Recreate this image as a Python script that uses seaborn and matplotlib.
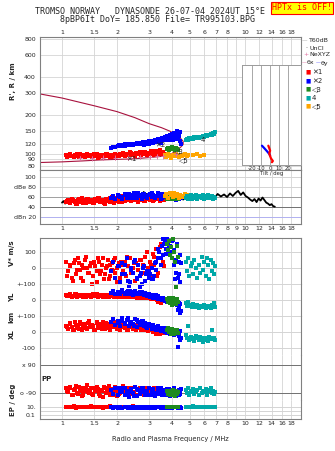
import matplotlib
matplotlib.use("Agg")
import matplotlib.pyplot as plt
from matplotlib.ticker import NullLocator
import seaborn as sns

# ---- values ----
red_f = [1.05, 1.08, 1.1, 1.13, 1.16, 1.19, 1.22, 1.25, 1.28, 1.31, 1.34, 1.37, 1.4, 1.44, 1.48, 1.52, 1.56, 1.6, 1.64, 1.68,
         1.72, 1.76, 1.8, 1.84, 1.88, 1.92, 1.96, 2.0, 2.04, 2.08, 2.12, 2.16, 2.2, 2.25, 2.3, 2.35, 2.4, 2.45, 2.5, 2.55,
         2.6, 2.66, 2.72, 2.78, 2.84, 2.9, 2.96, 3.02, 3.08, 3.14, 3.2, 3.27, 3.34, 3.42, 3.5, 3.6]
red_h = [97, 95, 99, 96, 94, 98, 96, 100, 95, 97, 94, 99, 96, 98, 95, 97, 100, 94, 96, 98,
         95, 99, 97, 94, 98, 96, 100, 97, 95, 99, 98, 101, 96, 99, 97, 102, 98, 100, 96, 101,
         99, 103, 97, 100, 102, 98, 101, 99, 104, 100, 98, 102, 105, 100, 103, 99]
red_db = [50, 54, 48, 56, 52, 47, 55, 51, 58, 49, 53, 57, 50, 54, 48, 56, 52, 59, 50, 55,
          47, 53, 57, 51, 60, 49, 54, 58, 52, 56, 50, 61, 53, 57, 55, 59, 52, 60, 54, 57,
          51, 58, 55, 62, 53, 57, 60, 54, 58, 52, 61, 56, 59, 53, 57, 55]
red_v = [40, -20, 10, -60, 30, -40, 60, -10, 20, -80, 50, 0, -30, 30, -50, 10, -90, 40, -20, 60,
         -40, 10, -70, 20, -10, 50, -30, 0, 30, -60, 20, -20, 40, -50, 10, 60, -30, 0, -80, 30,
         -10, 50, -40, 20, 70, -20, 0, 40, -60, 90, 20, 120, -30, 60, 150, 10]
red_yl = [30, 25, 35, 20, 28, 38, 22, 30, 26, 18, 33, 24, 29, 20, 35, 27, 22, 31, 25, 19,
          28, 34, 21, 26, 30, 17, 24, 32, 20, 27, 23, 18, 29, 25, 21, 16, 26, 22, 30, 19,
          24, 14, 20, 27, 15, 22, 10, 18, 12, 20, 8, 15, -10, 12, -20, 8]
red_xl = [40, 20, 55, 30, 10, 45, 25, 60, 15, 35, 50, 20, 70, 30, 40, 10, 55, 25, 45, 65,
          20, 35, 50, 15, 40, 30, 60, 20, 45, 10, 35, 55, 25, 40, 15, 50, 30, 20, 45, 10,
          35, 25, 40, 15, 30, 20, 5, 25, 10, 0, 15, -10, 5, -15, 10, -5]
red_pp = [-60, -85, -50, -100, -70, -45, -95, -65, -110, -55, -80, -40, -90, -60, -105, -75, -50, -95, -70, -115,
          -55, -85, -45, -100, -65, -80, -50, -110, -70, -90, -60, -45, -100, -75, -55, -95, -65, -85, -50, -105,
          -70, -60, -90, -80, -55, -100, -65, -85, -75, -95, -60, -80, -70, -90, -65, -85]
red_ep = [10, 8, 12, 9, 14, 7, 11, 10, 13, 8, 9, 12, 10, 15, 8, 11, 9, 13, 10, 7,
          12, 9, 11, 14, 8, 10, 12, 9, 11, 8, 13, 10, 9, 12, 7, 11, 10, 14, 9, 12,
          8, 10, 11, 13, 9, 10, 12, 8, 11, 9, 10, 13, 8, 11, 10, 12]

# second batch of mode-1 echoes
red2_f = [1.07, 1.11, 1.15, 1.18, 1.21, 1.24, 1.27, 1.3, 1.35, 1.39, 1.42, 1.46, 1.5, 1.55, 1.58, 1.62, 1.66, 1.7, 1.75, 1.79,
          1.83, 1.87, 1.91, 1.95, 2.0, 2.06, 2.1, 2.18, 2.28, 2.38, 2.48, 2.58, 2.7, 2.8, 2.93, 3.05, 3.18, 3.3, 3.45, 3.55]
red2_h = [94, 98, 95, 97, 99, 94, 97, 96, 98, 95, 97, 94, 99, 96, 93, 98, 95, 97, 99, 96,
          98, 94, 97, 99, 96, 98, 100, 97, 99, 101, 97, 100, 98, 103, 99, 101, 104, 100, 106, 102]
red2_db = [53, 49, 55, 51, 47, 56, 50, 54, 48, 57, 52, 55, 49, 53, 58, 51, 54, 49, 56, 52,
           58, 50, 55, 53, 57, 51, 59, 54, 56, 52, 60, 55, 58, 53, 61, 57, 55, 59, 56, 58]
red2_v = [-50, 20, -80, 50, -10, 30, -60, 0, 70, -30, 10, -100, 40, -20, 60, -40, 20, -70, 0, 50,
          -50, 30, -20, 60, -90, 10, 40, -40, 70, -10, 30, -70, 50, -30, 100, 10, 70, -50, 130, 40]
red2_yl = [22, 32, 27, 36, 19, 30, 25, 34, 21, 28, 31, 23, 26, 35, 20, 29, 24, 33, 18, 27,
           25, 30, 22, 28, 19, 26, 23, 31, 17, 25, 20, 15, 24, 12, 18, 6, 14, 0, 10, -5]
red2_xl = [30, 50, 15, 65, 35, 20, 50, 40, 25, 55, 35, 45, 15, 60, 30, 50, 20, 40, 55, 25,
           45, 30, 65, 40, 20, 50, 30, 45, 15, 35, 25, 40, 10, 30, 15, 20, 0, 10, -10, 5]
red2_pp = [-75, -55, -100, -65, -90, -50, -80, -105, -60, -85, -70, -95, -55, -80, -65, -110, -75, -50, -90, -60,
           -85, -70, -100, -55, -80, -95, -65, -75, -105, -60, -90, -70, -80, -100, -65, -85, -75, -95, -70, -80]
red2_ep = [9, 11, 8, 12, 10, 9, 13, 8, 11, 10, 12, 9, 8, 11, 13, 10, 9, 12, 8, 10,
           11, 9, 12, 10, 8, 11, 9, 13, 10, 8, 12, 9, 11, 10, 12, 9, 11, 8, 10, 12]

blue_f = [1.85, 1.9, 1.96, 2.02, 2.08, 2.14, 2.2, 2.26, 2.32, 2.38, 2.44, 2.5, 2.56, 2.62, 2.68, 2.74, 2.8, 2.86, 2.92, 2.98,
          3.04, 3.1, 3.16, 3.22, 3.28, 3.34, 3.4, 3.46, 3.52, 3.58, 3.64, 3.7, 3.76, 3.82, 3.88, 3.94, 4.0, 4.06, 4.12, 4.18,
          4.24, 4.3, 4.36, 4.42]
blue_h = [111, 113, 112, 115, 114, 117, 115, 118, 116, 119, 117, 120, 118, 121, 119, 122, 117, 121, 124, 119,
          123, 126, 121, 128, 124, 130, 126, 122, 132, 127, 134, 129, 137, 131, 140, 134, 143, 128, 146, 136,
          150, 131, 141, 125]
blue_db = [58, 62, 56, 64, 60, 57, 63, 59, 66, 61, 58, 64, 60, 67, 62, 57, 65, 61, 59, 63,
           66, 60, 64, 58, 62, 67, 61, 65, 59, 63, 60, 64, 58, 62, 56, 60, 63, 57, 61, 55,
           59, 62, 57, 60]
blue_v = [-20, 40, -60, 10, -90, 30, -40, 60, -110, 0, -30, 50, -70, 20, -50, -100, 10, -80, -20, -60,
          -40, 0, -70, 30, -10, 60, 100, 20, 140, 80, 170, 120, 180, 160, 100, 170, 60, 175, 20, -30,
          150, -60, 40, -90]
blue_yl = [45, 55, 40, 50, 35, 60, 42, 52, 38, 48, 33, 55, 40, 46, 36, 50, 30, 44, 25, 38,
           20, 32, 15, 28, 10, 22, 5, 15, 0, 10, -5, 5, -10, 0, -15, -5, -20, -10, -25, -15,
           -30, -60, -20, -80]
blue_xl = [60, 80, 45, 70, 35, 85, 55, 75, 40, 65, 50, 80, 30, 60, 45, 70, 35, 55, 25, 50,
           40, 20, 45, 30, 15, 35, 10, 25, 5, 20, 0, 15, -5, 10, -10, 5, -15, 0, -20, 10,
           -10, -95, -5, -50]
blue_pp = [-70, -95, -55, -105, -80, -60, -100, -75, -115, -65, -90, -50, -110, -70, -95, -60, -85, -105, -75, -55,
           -100, -80, -65, -110, -90, -70, -95, -60, -105, -85, -75, -100, -65, -90, -110, -80, -70, -95, -60, -100,
           -85, -75, -105, -90]
blue_ep = [8, 6, 11, 7, 9, 5, 12, 8, 6, 10, 7, 9, 5, 11, 8, 6, 10, 7, 13, 8,
           6, 9, 11, 7, 10, 8, 12, 6, 9, 7, 11, 8, 10, 6, 9, 12, 7, 10, 8, 11,
           9, 7, 12, 8]

# second batch of mode-2 echoes
blue2_f = [2.12, 2.2, 2.3, 2.4, 2.48, 2.58, 2.66, 2.76, 2.88, 3.0, 3.12, 3.25, 3.36, 3.48, 3.6, 3.72, 3.85, 3.98, 4.1, 4.22,
           4.34, 4.4, 2.05, 2.35, 2.7, 3.2, 3.55, 3.9, 4.15, 4.45]
blue2_h = [114, 119, 116, 120, 118, 122, 119, 123, 120, 125, 121, 127, 124, 130, 127, 133, 129, 138, 134, 142,
           138, 147, 116, 117, 122, 123, 131, 139, 130, 120]
blue2_db = [60, 65, 58, 63, 67, 59, 62, 66, 60, 64, 68, 61, 63, 57, 62, 65, 59, 61, 57, 60,
            58, 62, 61, 59, 63, 60, 65, 58, 56, 59]
blue2_v = [-40, 20, -80, -10, 40, -60, -120, 0, -40, -20, -70, 40, 120, 60, 150, 90, 130, 170, 110, 50,
           -40, 80, 10, -90, -30, -50, 180, 140, -70, 30]
blue2_yl = [50, 38, 56, 42, 48, 35, 52, 40, 32, 26, 18, 30, 8, 14, -2, 4, -12, -6, -20, -10,
            -45, -25, 40, 58, 44, 22, 12, -8, -18, -70]
blue2_xl = [70, 50, 88, 60, 40, 78, 52, 66, 30, 45, 28, 18, 38, 8, 22, -2, 12, -8, -14, -5,
            -25, 5, 55, 65, 42, 24, 14, -10, 3, -40]
blue2_pp = [-85, -60, -100, -75, -110, -65, -90, -55, -80, -105, -70, -95, -60, -85, -100, -75, -65, -90, -80, -110,
            -70, -95, -60, -85, -75, -100, -70, -90, -80, -65]
blue2_ep = [7, 10, 6, 9, 12, 8, 5, 11, 7, 9, 6, 10, 8, 12, 7, 9, 11, 6, 8, 10,
            7, 9, 8, 6, 10, 7, 9, 11, 8, 6]

green_f = [3.75, 3.8, 3.85, 3.9, 3.95, 4.0, 4.05, 4.1, 4.15, 4.2, 4.25, 4.3]
green_h = [108, 110, 107, 111, 109, 112, 108, 110, 106, 111, 109, 107]
green_db = [57, 60, 56, 59, 58, 61, 57, 59, 56, 60, 58, 57]
green_v = [150, 110, 170, 80, 130, 60, 180, 100, 40, -120, 140, 70]
green_yl = [5, -10, 15, -20, 0, -30, 10, -15, -5, -25, 5, -10]
green_xl = [10, 25, 0, 15, -10, 20, 5, -15, 15, 0, 10, -5]
green_pp = [-80, -95, -75, -105, -85, -100, -70, -90, -110, -80, -95, -85]
green_ep = [9, 11, 8, 10, 12, 9, 10, 8, 11, 9, 10, 12]

cyan_f = [4.75, 4.82, 4.9, 4.98, 5.06, 5.14, 5.22, 5.3, 5.4, 5.5, 5.6, 5.7, 5.8, 5.9, 6.0, 6.1, 6.2, 6.3, 6.4, 6.5,
          6.6, 6.7, 6.8, 6.9]
cyan_h = [129, 131, 128, 132, 130, 133, 131, 134, 132, 135, 133, 136, 134, 137, 135, 139, 137, 141, 139, 143,
          141, 145, 143, 147]
cyan_db = [58, 62, 56, 60, 64, 57, 61, 59, 63, 56, 60, 62, 58, 64, 57, 61, 59, 63, 60, 58, 62, 57, 60, 59]
cyan_v = [40, -20, 60, -50, 10, 30, -40, 50, 0, -60, 20, -30, 70, -10, 40, -50, 60, 20, -70, 50, -20, 30, -40, 10]
cyan_yl = [-20, -35, -10, -40, -30, -45, -25, -38, -42, -30, -48, -35, -40, -45, -32, -50, -38, -44, -35, -48,
           -30, -42, -20, -45]
cyan_xl = [-20, -40, 40, -50, -30, -45, -35, -55, -25, -40, -50, -30, -45, -60, -35, -50, -40, -55, -30, -45,
           10, -40, -35, -50]
cyan_pp = [-70, -90, -60, -100, -75, -85, -65, -95, -80, -70, -105, -60, -90, -75, -85, -65, -100, -80, -70, -55,
           -90, -75, -95, -85]
cyan_ep = [12, 10, 13, 11, 12, 10, 14, 11, 12, 13, 10, 12, 11, 13, 12, 10, 11, 12, 13, 11, 12, 10, 11, 12]

orange_f = [3.65, 3.72, 3.8, 3.88, 3.96, 4.04, 4.12, 4.2, 4.28, 4.36, 4.44, 4.52, 4.6, 4.7, 4.8, 4.9, 5.2, 5.45, 5.7, 5.95]
orange_h = [97, 94, 99, 96, 93, 98, 95, 100, 96, 94, 98, 95, 97, 99, 96, 98, 97, 99, 96, 98]
orange_db = [62, 66, 59, 68, 63, 60, 67, 61, 65, 58, 64, 62, 60, 66, 59, 63, 61, 58, 62, 60]

# unclassified amplitude trace
blk_f = [1.0, 1.02, 1.04, 1.06, 1.08, 1.1, 1.15, 1.2, 1.3, 1.4, 1.5, 1.6, 1.7, 1.8, 1.9, 2.0, 2.1, 2.2, 2.3, 2.4,
         2.5, 2.6, 2.7, 2.75, 2.8, 2.85, 2.9, 2.95, 3.0, 3.05, 3.1, 3.2, 3.3, 3.4, 3.5, 3.6, 3.7, 3.8, 3.9, 4.0,
         4.2, 4.4, 4.6, 4.8, 5.0, 5.3, 5.6, 6.0, 6.3, 6.6, 6.9, 7.1, 7.4, 7.7, 8.0, 8.3, 8.6, 8.9, 9.2, 9.5,
         9.8, 10.1, 10.4, 10.7, 11.0, 11.3, 11.6, 11.9, 12.2, 12.5, 12.8, 13.1, 13.4, 13.7, 14.0, 14.3, 14.6]
blk_db = [49, 52, 47, 51, 48, 50, 53, 49, 52, 50, 54, 51, 55, 52, 56, 53, 57, 54, 58, 55,
          60, 57, 63, 58, 70, 60, 66, 57, 64, 59, 62, 56, 60, 57, 61, 58, 63, 59, 65, 60,
          57, 61, 55, 59, 56, 60, 57, 62, 58, 64, 60, 66, 61, 65, 60, 67, 62, 68, 72, 64,
          69, 62, 59, 55, 52, 56, 50, 57, 53, 59, 54, 49, 47, 44, 46, 42, 41]

# model curves (upper and lower branch)
mod_up_f = [0.758, 1.0, 1.5, 2.0, 2.5, 3.0, 3.5, 3.9, 4.2, 4.45, 4.6, 4.6, 4.45, 4.25]
mod_up_h = [295, 274, 238, 214, 192, 172, 160, 150, 140, 132, 125, 118, 112, 107]
mod_lo_f = [0.758, 1.0, 1.3, 1.6, 2.0, 2.5, 3.0, 3.5, 4.0, 4.25]
mod_lo_h = [85, 86, 87.5, 89, 90, 91, 93, 95, 100, 107]

# NeXYZ points
ne_f = [1.25, 1.46, 1.68, 1.95, 2.3, 2.67, 3.03, 3.31, 3.57, 4.2]
ne_h = [92, 92, 93, 93, 93, 94, 94, 95, 95, 100]
ne_err = [4, 4, 4, 4, 4, 4, 4, 4, 4, 4]

# tilt inset
tilt_red_t = [-2, -1, 0, -1, 0, 1, 3, 2]
tilt_red_h = [116, 111, 106, 101, 96, 92, 88, 86]
tilt_blue_t = [-9, -7, -5, -3, -1, 0]
tilt_blue_h = [116, 112, 108, 104, 100, 97]

mode_labels = ["✕1", "✕2", "◁3", "4", "◁5"]
mode_lab_f = [2.4, 3.44, 4.35, 5.9, 4.65]
mode_lab_h = [91, 117, 104, 127, 89]

f_ticks = [1, 1.5, 2, 3, 4, 5, 6, 7, 8, 10, 12, 14, 16, 18]
f_ticks_mid = [1, 1.5, 2, 3, 4, 5, 6, 7, 8, 9, 10, 12, 14, 16, 18]
h_ticks = [80, 90, 100, 120, 150, 200, 300, 400, 600, 800]

RED, BLUE, GREEN, CYAN, ORANGE = "#ff0000", "#0000ff", "#1f8a1f", "#00a8a8", "#ffa500"
DARKRED, PINK = "#a8123e", "#e070a0"
GRID, FRAME = "#d4d4d4", "#808080"
FS = 4.5

sns.set_style("white")
plt.rcParams['font.family'] = ['DejaVu Sans']
plt.rcParams['font.size'] = FS

W, H = 335, 451
fig = plt.figure(figsize=(W / 100, H / 100), dpi=100)


def px_axes(x0, y0, x1, y1):
    return fig.add_axes([x0 / W, 1 - y1 / H, (x1 - x0) / W, (y1 - y0) / H])


def freq_axis(ax, ticks=f_ticks):
    ax.set_xscale('log')
    ax.set_xlim(0.758, 20.3)
    ax.xaxis.set_minor_locator(NullLocator())
    ax.set_xticks(ticks)
    ax.set_xticklabels([f"{t:g}" for t in ticks])
    for g in f_ticks_mid:
        ax.axvline(g, color=GRID, lw=0.6, zorder=0)
    ax.tick_params(axis='both', length=0, labelsize=FS, pad=1.5)
    ax.yaxis.set_minor_locator(NullLocator())
    for s in ax.spines.values():
        s.set_color(FRAME)
        s.set_linewidth(0.8)


def dots(ax, f, v, color, s=5):
    sns.scatterplot(x=f, y=v, ax=ax, color=color, marker='s', s=s, linewidth=0, legend=False, zorder=3)


# ---- height panel ----
axh = px_axes(40, 37, 301, 170)
axh.set_yscale('log')
axh.set_ylim(74.2, 829)
freq_axis(axh)
axh.xaxis.tick_top()
axh.set_yticks(h_ticks)
axh.set_yticklabels([str(t) for t in h_ticks])
axh.tick_params(axis='y', pad=3)
for t in h_ticks:
    axh.axhline(t, color=GRID, lw=0.6, zorder=0)
sns.lineplot(x=mod_up_f, y=mod_up_h, ax=axh, sort=False, estimator=None, color=DARKRED, lw=0.8)
sns.lineplot(x=mod_lo_f, y=mod_lo_h, ax=axh, sort=False, estimator=None, color=DARKRED, lw=0.8)
dots(axh, red_f + red2_f, red_h + red2_h, RED, 6)
dots(axh, blue_f + blue2_f, blue_h + blue2_h, BLUE, 6)
dots(axh, orange_f, orange_h, ORANGE, 6)
dots(axh, green_f, green_h, GREEN, 6)
dots(axh, cyan_f, cyan_h, CYAN, 6)
axh.errorbar(ne_f, ne_h, yerr=ne_err, fmt='+', color=PINK, ms=3.5, mew=0.7, elinewidth=0.6, capsize=0, zorder=4)
for lab, f, h in zip(mode_labels, mode_lab_f, mode_lab_h):
    axh.text(f, h, lab, fontsize=5, ha='center', va='center', zorder=5)
axh.set_xlabel('')
axh.set_ylabel('')

# ---- amplitude panel ----
axa = px_axes(40, 170, 301, 224)
axa.set_ylim(7, 113)
freq_axis(axa, f_ticks_mid)
axa.set_yticks([100, 80, 60, 40, 20])
axa.set_yticklabels(["100", "dBe 80", "60", "40", "dBn 20"])
axa.tick_params(axis='y', pad=3)
for t, c in zip([100, 80, 60, 40, 20], [GRID, GRID, "#a0a0a0", "#707070", "#b0b0f0"]):
    axa.axhline(t, color=c, lw=0.7, zorder=0)
sns.lineplot(x=blk_f, y=blk_db, ax=axa, sort=False, estimator=None, color="black", lw=1.3)
dots(axa, red_f + red2_f, red_db + red2_db, RED, 6)
dots(axa, blue_f + blue2_f, blue_db + blue2_db, BLUE, 6)
dots(axa, green_f, green_db, GREEN, 6)
dots(axa, orange_f, orange_db, ORANGE, 6)
dots(axa, cyan_f, cyan_db, CYAN, 6)
axa.set_xlabel('')
axa.set_ylabel('')

# ---- lower tracks ----
series = [(red_f + red2_f, red_v + red2_v, red_yl + red2_yl, red_xl + red2_xl, red_pp + red2_pp, red_ep + red2_ep, RED),
          (blue_f + blue2_f, blue_v + blue2_v, blue_yl + blue2_yl, blue_xl + blue2_xl, blue_pp + blue2_pp,
           blue_ep + blue2_ep, BLUE),
          (green_f, green_v, green_yl, green_xl, green_pp, green_ep, GREEN),
          (cyan_f, cyan_v, cyan_yl, cyan_xl, cyan_pp, cyan_ep, CYAN)]


def track(y0, y1, lo, hi, ticks, labels, lines, log=False, top=False, bottom=False):
    ax = px_axes(40, y0, 301, y1)
    ax.patch.set_alpha(0)
    if log:
        ax.set_yscale('log')
    ax.set_ylim(lo, hi)
    freq_axis(ax)
    ax.set_yticks(ticks)
    ax.set_yticklabels(labels)
    ax.tick_params(axis='y', pad=3)
    for t, c in lines:
        ax.axhline(t, color=c, lw=0.7, zorder=0)
    ax.spines['top'].set_visible(top)
    ax.spines['bottom'].set_visible(bottom)
    ax.tick_params(axis='x', labelbottom=bottom, labeltop=False)
    return ax


ax_v = track(238, 284, -100, 187.5, [100, 0], ["100", "0"], [(100, GRID), (0, GRID)], top=True)
ax_yl = track(284, 316, -100, 100, [100, 0], ["+-100", "0"], [(100, GRID), (0, GRID)])
ax_xl = track(316, 355, -144, 100, [100, 0, -100], ["+-100", "0", "-100"],
              [(100, GRID), (0, GRID), (-100, GRID)])
ax_pp = track(355, 400, -135, 154, [90, -90], ["x 90", "o -90"], [(90, "#707070"), (-90, "#707070")])
ax_ep = track(400, 419, 0.01, 562, [10, 0.1], ["10.", "0.1"], [(10, GRID), (1, GRID), (0.1, GRID)],
              log=True, bottom=True)

for f, v, yl, xl, pp, ep, c in series:
    dots(ax_v, f, v, c)
    dots(ax_yl, f, yl, c)
    dots(ax_xl, f, xl, c)
    dots(ax_pp, f, pp, c)
    dots(ax_ep, f, ep, c)
for ax in (ax_v, ax_yl, ax_xl, ax_pp, ax_ep):
    ax.set_xlabel('')
    ax.set_ylabel('')
    for coll in ax.collections:
        coll.set_clip_on(False)

# ---- tilt inset ----
axt = px_axes(242, 65, 301, 165)
axt.set_facecolor("white")
axt.set_zorder(5)
axt.set_yscale('log')
axt.set_ylim(81.8, 499)
axt.set_xlim(-31, 34)
axt.yaxis.set_minor_locator(NullLocator())
axt.set_yticks([])
axt.set_xticks([-20, -10, 0, 10, 20])
axt.set_xticklabels(["-20", "-10", "0", "10", "20"])
axt.tick_params(axis='x', length=0, labelsize=3.8, pad=1)
for g in [-20, -10, 0, 10, 20]:
    axt.axvline(g, color="#9a9a9a", lw=0.6, zorder=0)
for s in axt.spines.values():
    s.set_color("#9a9a9a")
    s.set_linewidth(0.7)
sns.lineplot(x=tilt_blue_t, y=tilt_blue_h, ax=axt, sort=False, estimator=None, color=BLUE, lw=1.6)
sns.lineplot(x=tilt_red_t, y=tilt_red_h, ax=axt, sort=False, estimator=None, color=RED, lw=1.6)
axt.set_ylabel('')
axt.set_xlabel("Tilt / deg", fontsize=3.8, labelpad=0)

# ---- legend (right margin) ----
fig.text(302 / W, 1 - 41 / H, "—", color="#a0a0a0", fontsize=4, va='center')
fig.text(309 / W, 1 - 41 / H, "T60dB", fontsize=FS, va='center')
fig.text(305 / W, 1 - 48 / H, "·", fontsize=FS, va='center')
fig.text(310 / W, 1 - 48 / H, "UnCl", fontsize=FS, va='center')
fig.text(303 / W, 1 - 55 / H, "+", color=PINK, fontsize=FS, va='center')
fig.text(309 / W, 1 - 55 / H, "NeXYZ", fontsize=FS, va='center')
fig.text(302 / W, 1 - 63 / H, "—", color=PINK, fontsize=3.5, va='center')
fig.text(307 / W, 1 - 63 / H, "θx", fontsize=FS, va='center')
fig.text(316 / W, 1 - 63 / H, "—", color="#6060ff", fontsize=3.5, va='center')
fig.text(321 / W, 1 - 63 / H, "θy", fontsize=FS, va='center')
for lab, c, y in zip(mode_labels, [RED, BLUE, GREEN, CYAN, ORANGE], [72, 81, 89, 98, 106]):
    fig.text(305 / W, 1 - y / H, "■", color=c, fontsize=4, va='center')
    fig.text(312 / W, 1 - y / H, lab, fontsize=5, va='center')

# ---- titles and labels ----
mono = dict(family=['DejaVu Sans Mono'], fontsize=6)
fig.text(150 / W, 1 - 12 / H, "TROMSO NORWAY   DYNASONDE 26-07-04 2024UT 15°E", ha='center', va='center', **mono)
fig.text(157 / W, 1 - 20 / H, "8pBP6It DoY= 185.850 File= TR995103.BPG", ha='center', va='center', **mono)
fig.text(302 / W, 1 - 8 / H, "HPTx is OFF!", ha='center', va='center', color=RED,
         bbox=dict(boxstyle='square,pad=0.15', fc='#ffff00', ec=RED, lw=0.8), **mono)

lab = dict(fontsize=5, fontweight='bold', rotation=90, ha='center', va='center')
fig.text(13 / W, 1 - 81 / H, "R', R / km", **lab)
fig.text(12 / W, 1 - 253 / H, "V* m/s", **lab)
fig.text(12 / W, 1 - 297 / H, "YL", **lab)
fig.text(11 / W, 1 - 317 / H, "km", **lab)
fig.text(12 / W, 1 - 334 / H, "XL", **lab)
fig.text(13 / W, 1 - 400 / H, "EP / deg", **lab)
fig.text(46 / W, 1 - 379 / H, "PP", fontsize=5, fontweight='bold', ha='center', va='center')
fig.text(170 / W, 1 - 439 / H, "Radio and Plasma Frequency / MHz", fontsize=4.8, ha='center', va='center')

fig.savefig("out.png", dpi=100)
